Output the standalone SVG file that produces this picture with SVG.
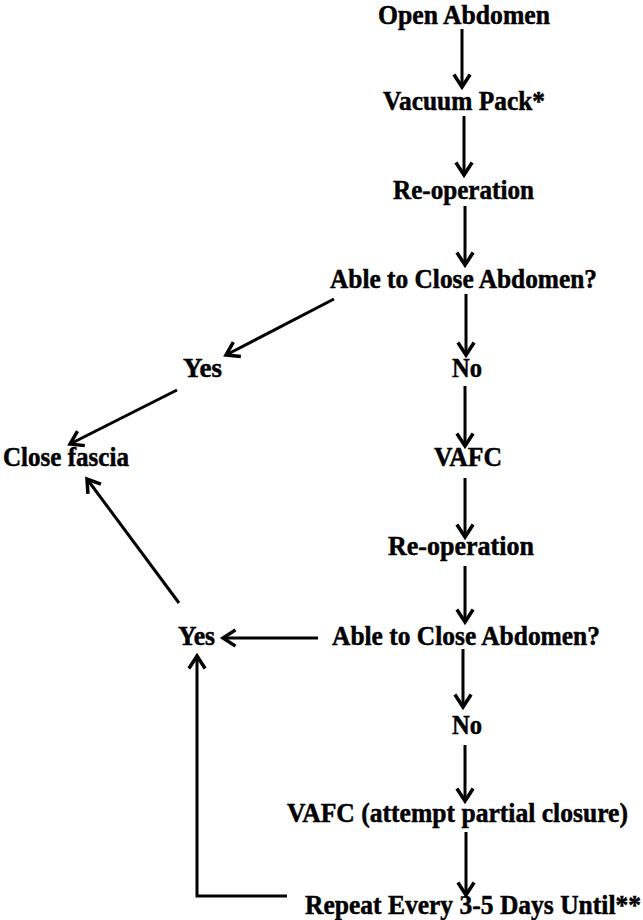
<svg xmlns="http://www.w3.org/2000/svg" width="643" height="920" viewBox="0 0 643 920">
<style>
text{font-family:"Liberation Serif","Times New Roman",serif;font-weight:bold;font-size:27.5px;fill:#000;stroke:#000;stroke-width:0.5}
.e{fill:none;stroke:#000;stroke-width:3}
</style>
<defs>
<marker id="ah" markerUnits="userSpaceOnUse" markerWidth="20" markerHeight="20" refX="0" refY="0" viewBox="-12 -8 14 16" orient="auto" overflow="visible">
<path d="M-10,-6.5 L0,0 L-10,6.5" fill="none" stroke="#000" stroke-width="2.8"/>
</marker>
</defs>
<rect width="643" height="920" fill="#fff"/>
<g id="connectors">
<line class="e" x1="462" y1="29" x2="462" y2="87" marker-end="url(#ah)"/>
<line class="e" x1="464" y1="116" x2="464" y2="175" marker-end="url(#ah)"/>
<line class="e" x1="465" y1="206" x2="465" y2="265" marker-end="url(#ah)"/>
<line class="e" x1="334" y1="299" x2="226" y2="355" marker-end="url(#ah)"/>
<line class="e" x1="466" y1="294" x2="466" y2="355" marker-end="url(#ah)"/>
<line class="e" x1="177" y1="390" x2="70" y2="444" marker-end="url(#ah)"/>
<line class="e" x1="465" y1="386" x2="465" y2="446" marker-end="url(#ah)"/>
<line class="e" x1="465" y1="478" x2="465" y2="537" marker-end="url(#ah)"/>
<line class="e" x1="465" y1="566" x2="465" y2="622" marker-end="url(#ah)"/>
<line class="e" x1="318" y1="638" x2="223" y2="638" marker-end="url(#ah)"/>
<line class="e" x1="179" y1="603" x2="87" y2="479" marker-end="url(#ah)"/>
<line class="e" x1="463" y1="649" x2="463" y2="707" marker-end="url(#ah)"/>
<line class="e" x1="465" y1="745" x2="465" y2="801" marker-end="url(#ah)"/>
<line class="e" x1="466" y1="832" x2="466" y2="895" marker-end="url(#ah)"/>
<polyline class="e" points="287,896 197,896 197,656" marker-end="url(#ah)"/>
</g>
<g id="n1"><text x="378" y="23.5" textLength="172" lengthAdjust="spacingAndGlyphs">Open Abdomen</text></g>
<g id="n2"><text x="383" y="110" textLength="162" lengthAdjust="spacingAndGlyphs">Vacuum Pack*</text></g>
<g id="n3"><text x="393" y="199" textLength="141" lengthAdjust="spacingAndGlyphs">Re-operation</text></g>
<g id="n4"><text x="330" y="288" textLength="267" lengthAdjust="spacingAndGlyphs">Able to Close Abdomen?</text></g>
<g id="n5"><text x="183" y="377" textLength="39" lengthAdjust="spacingAndGlyphs">Yes</text></g>
<g id="n6"><text x="452" y="377" textLength="30" lengthAdjust="spacingAndGlyphs">No</text></g>
<g id="n7"><text x="3" y="466" textLength="126" lengthAdjust="spacingAndGlyphs">Close fascia</text></g>
<g id="n8"><text x="434" y="466" textLength="68" lengthAdjust="spacingAndGlyphs">VAFC</text></g>
<g id="n9"><text x="388" y="555" textLength="146" lengthAdjust="spacingAndGlyphs">Re-operation</text></g>
<g id="n10"><text x="332" y="645" textLength="268" lengthAdjust="spacingAndGlyphs">Able to Close Abdomen?</text></g>
<g id="n11"><text x="178" y="645" textLength="37" lengthAdjust="spacingAndGlyphs">Yes</text></g>
<g id="n12"><text x="452" y="734" textLength="30" lengthAdjust="spacingAndGlyphs">No</text></g>
<g id="n13"><text x="287" y="822" textLength="341" lengthAdjust="spacingAndGlyphs">VAFC (attempt partial closure)</text></g>
<g id="n14"><text x="305" y="914" textLength="336" lengthAdjust="spacingAndGlyphs">Repeat Every 3-5 Days Until**</text></g>
</svg>
